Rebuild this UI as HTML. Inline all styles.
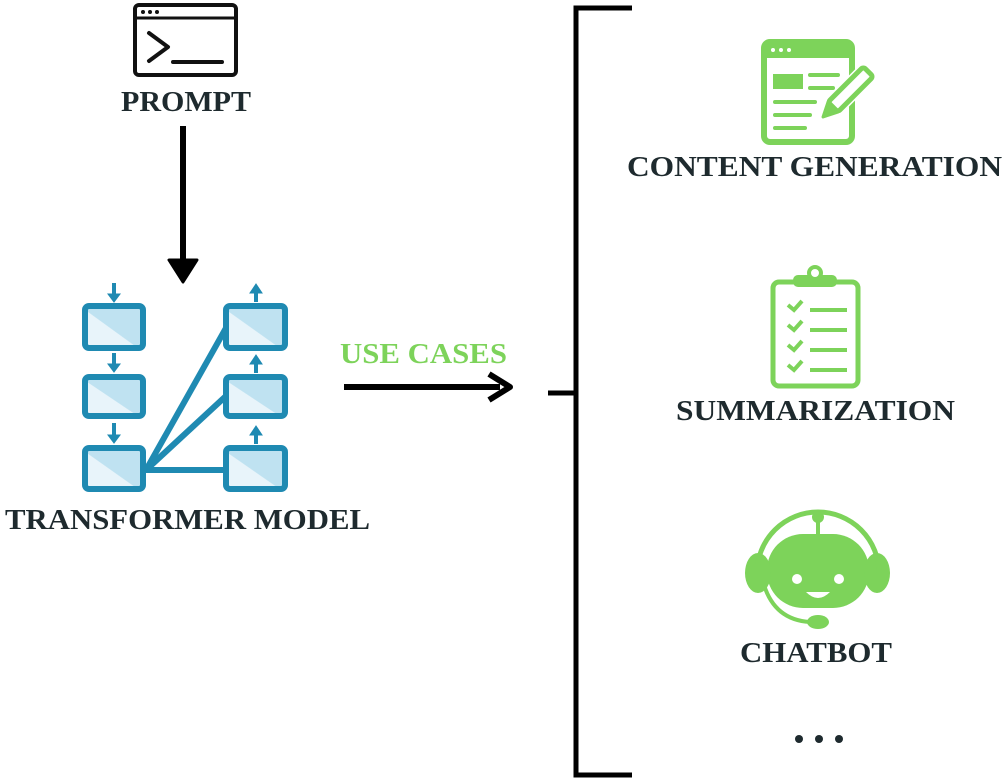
<!DOCTYPE html>
<html><head><meta charset="utf-8"><style>
body{margin:0;width:1005px;height:782px;background:#fff;overflow:hidden;}
svg{display:block}
text{font-family:"Liberation Serif",serif;font-weight:bold;fill:#1e2a2e}
</style></head><body>
<svg width="1005" height="782" viewBox="0 0 1005 782">
<!-- prompt icon -->
<rect x="135" y="5" width="101" height="70" rx="4" fill="none" stroke="#111" stroke-width="4"/>
<line x1="135" y1="18" x2="236" y2="18" stroke="#111" stroke-width="3"/>
<circle cx="143" cy="12" r="2" fill="#111"/><circle cx="150" cy="12" r="2" fill="#111"/><circle cx="157" cy="12" r="2" fill="#111"/>
<polyline points="149,33 168,47 149,61" fill="none" stroke="#111" stroke-width="4" stroke-linecap="round" stroke-linejoin="round"/>
<line x1="173" y1="62" x2="222" y2="62" stroke="#111" stroke-width="4" stroke-linecap="round"/>
<text x="121" y="111" font-size="28" textLength="130" lengthAdjust="spacingAndGlyphs">PROMPT</text>
<line x1="183" y1="126" x2="183" y2="262" stroke="#000" stroke-width="6"/>
<polygon points="169,260 197,260 183,282" fill="#000" stroke="#000" stroke-width="3" stroke-linejoin="round"/>
<!-- transformer -->
<defs><linearGradient id="g" x1="0" y1="1" x2="1" y2="0"><stop offset="0.45" stop-color="#e8f4fa"/><stop offset="0.46" stop-color="#bfe2f1"/></linearGradient></defs>
<g stroke="#1f8ab2" stroke-width="6">
<line x1="146" y1="470" x2="226" y2="328"/>
<line x1="146" y1="470" x2="226" y2="396"/>
<line x1="146" y1="470" x2="226" y2="470"/>
</g>
<g fill="url(#g)" stroke="#1f8ab2" stroke-width="6">
<rect x="85" y="306" width="58" height="42" rx="4"/>
<rect x="85" y="377" width="58" height="39" rx="4"/>
<rect x="85" y="448" width="58" height="41" rx="4"/>
<rect x="226" y="306" width="59" height="42" rx="4"/>
<rect x="226" y="377" width="59" height="39" rx="4"/>
<rect x="226" y="448" width="59" height="41" rx="4"/>
</g>
<g stroke="#1f8ab2" stroke-width="4" fill="#1f8ab2">
<line x1="114" y1="283" x2="114" y2="296"/><polygon points="108,294 120,294 114,302" stroke-width="1"/>
<line x1="114" y1="353" x2="114" y2="366"/><polygon points="108,364 120,364 114,372" stroke-width="1"/>
<line x1="114" y1="423" x2="114" y2="437"/><polygon points="108,435 120,435 114,443" stroke-width="1"/>
<line x1="256" y1="291" x2="256" y2="302"/><polygon points="250,293 262,293 256,284" stroke-width="1"/>
<line x1="256" y1="363" x2="256" y2="373"/><polygon points="250,364 262,364 256,355" stroke-width="1"/>
<line x1="256" y1="433" x2="256" y2="444"/><polygon points="250,435 262,435 256,426" stroke-width="1"/>
</g>
<text x="5" y="529" font-size="29" textLength="365" lengthAdjust="spacingAndGlyphs">TRANSFORMER MODEL</text>
<!-- use cases -->
<text x="340" y="363" font-size="28" textLength="167" lengthAdjust="spacingAndGlyphs" style="fill:#7dd35a">USE CASES</text>
<line x1="344" y1="387" x2="500" y2="387" stroke="#000" stroke-width="6"/>
<polyline points="489,374 510,387 489,400" fill="none" stroke="#000" stroke-width="6" stroke-linejoin="round"/>
<!-- bracket -->
<polyline points="632,8 576,8 576,775 632,775" fill="none" stroke="#000" stroke-width="5"/>
<line x1="548" y1="393" x2="576" y2="393" stroke="#000" stroke-width="5"/>
<!-- content generation icon -->
<g fill="#7dd35a" stroke="#7dd35a">
<rect x="764" y="42" width="88" height="100" rx="6" fill="none" stroke-width="6"/>
<rect x="764" y="42" width="88" height="14" rx="5" stroke="none"/>
<line x1="764" y1="56" x2="852" y2="56" stroke-width="4"/>
<rect x="773" y="74" width="30" height="15" stroke="none"/>
<g stroke-width="4" stroke-linecap="round">
<line x1="810" y1="75" x2="838" y2="75"/><line x1="810" y1="88" x2="833" y2="88"/>
<line x1="775" y1="102" x2="815" y2="102"/><line x1="775" y1="115" x2="810" y2="115"/><line x1="775" y1="128" x2="805" y2="128"/>
</g>
</g>
<circle cx="773" cy="50" r="2" fill="#fff"/><circle cx="781" cy="50" r="2" fill="#fff"/><circle cx="789" cy="50" r="2" fill="#fff"/>
<g transform="translate(840,100) rotate(45)">
<rect x="-8" y="-42" width="16" height="60" fill="#fff" stroke="#fff" stroke-width="6"/>
<rect x="-7" y="-40" width="14" height="50" rx="3" fill="#fff" stroke="#7dd35a" stroke-width="5"/>
<polygon points="-7,10 7,10 0,24" fill="#7dd35a" stroke="#7dd35a" stroke-width="3" stroke-linejoin="round"/>
</g>
<text x="627" y="176" font-size="28" textLength="375" lengthAdjust="spacingAndGlyphs">CONTENT GENERATION</text>
<!-- summarization icon -->
<g fill="none" stroke="#7dd35a">
<rect x="773" y="282" width="85" height="104" rx="6" stroke-width="5"/>
<rect x="794" y="276" width="42" height="10" rx="4" fill="#7dd35a" stroke-width="2"/>
<circle cx="815" cy="273" r="6" fill="#fff" stroke-width="4"/>
<g stroke-width="4">
<line x1="810" y1="310" x2="847" y2="310"/><line x1="810" y1="330" x2="847" y2="330"/><line x1="810" y1="350" x2="847" y2="350"/><line x1="810" y1="370" x2="847" y2="370"/>
<polyline points="788,305 794,310 802,301"/><polyline points="788,325 794,330 802,321"/><polyline points="788,345 794,350 802,341"/><polyline points="788,365 794,370 802,361"/>
</g>
</g>
<text x="676" y="420" font-size="28" textLength="279" lengthAdjust="spacingAndGlyphs">SUMMARIZATION</text>
<!-- chatbot icon -->
<g fill="#7dd35a">
<circle cx="818" cy="517" r="6"/>
<rect x="816" y="517" width="4" height="20"/>
<rect x="767" y="534" width="102" height="74" rx="36"/>
<ellipse cx="758" cy="573" rx="13" ry="20"/>
<ellipse cx="877" cy="573" rx="13" ry="20"/>
<ellipse cx="818" cy="622" rx="11" ry="7"/>
</g>
<path d="M757,573 A60,60 0 0 1 879,573" fill="none" stroke="#7dd35a" stroke-width="5"/>
<path d="M764,585 Q775,620 810,622" fill="none" stroke="#7dd35a" stroke-width="4"/>
<circle cx="797" cy="579" r="5" fill="#fff"/><circle cx="839" cy="579" r="5" fill="#fff"/>
<path d="M806,592 Q818,604 830,592 Z" fill="#fff"/>
<text x="740" y="662" font-size="28" textLength="152" lengthAdjust="spacingAndGlyphs">CHATBOT</text>
<circle cx="799" cy="739" r="4" fill="#1e2a2e"/><circle cx="819" cy="739" r="4" fill="#1e2a2e"/><circle cx="839" cy="739" r="4" fill="#1e2a2e"/>
</svg>
</body></html>
